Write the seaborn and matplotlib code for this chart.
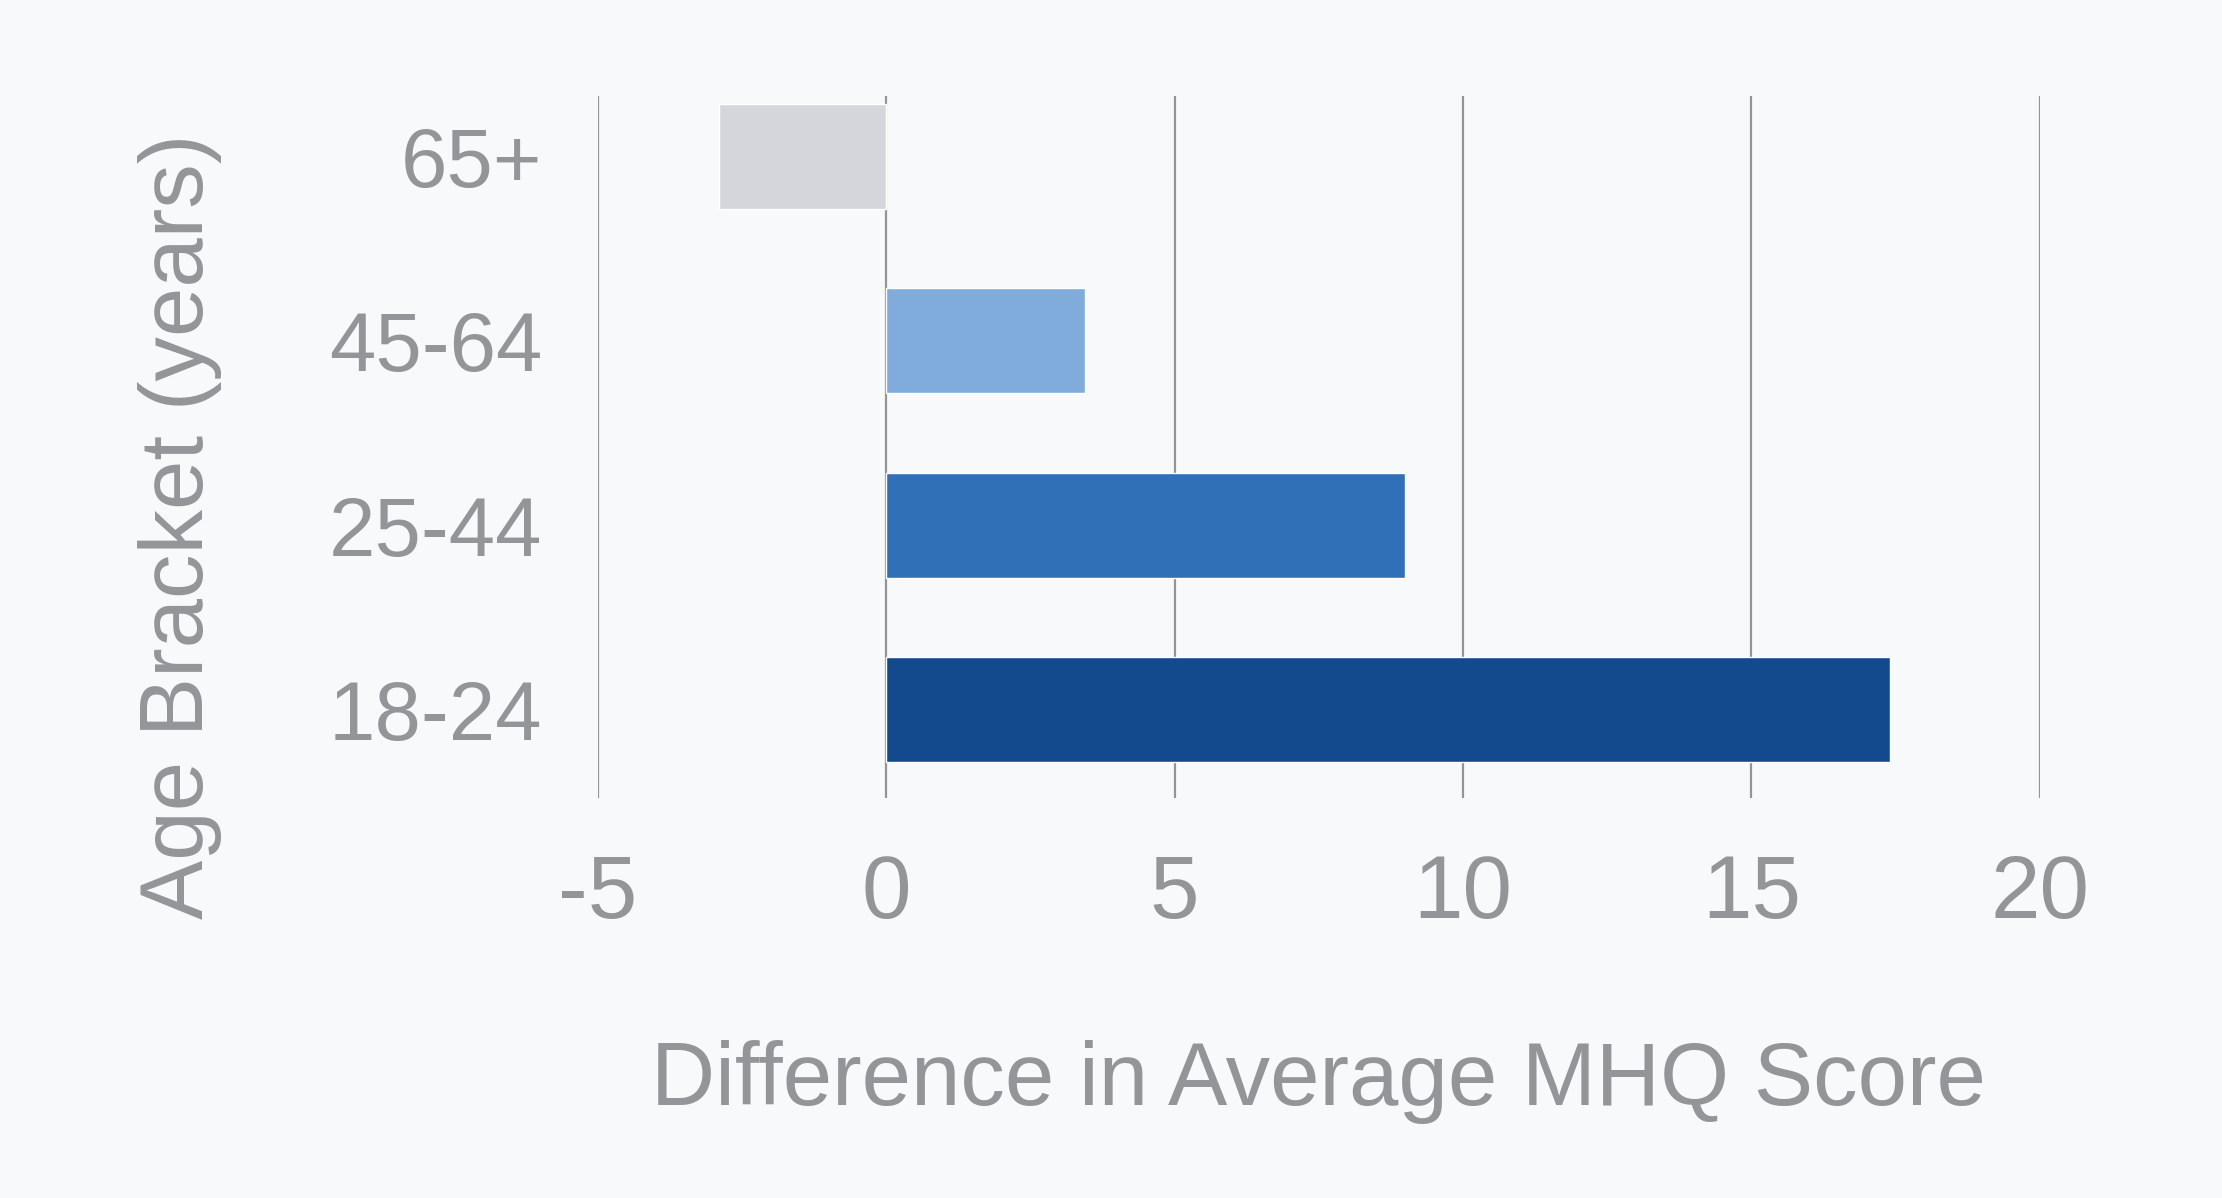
import matplotlib
matplotlib.use("Agg")
import matplotlib.pyplot as plt
import pandas as pd
import seaborn as sns

# data
age_brackets = ["65+", "45-64", "25-44", "18-24"]
mhq_diff = [-2.9, 3.45, 9.0, 17.4]
bar_colors = ["#d5d6dc", "#80acdb", "#3070b7", "#134a8e"]
x_ticks = [-5, 0, 5, 10, 15, 20]

BG = "#f8f9fb"
TXT = "#939598"
GRID = "#939598"

sns.set_theme(style="white")
plt.rcParams["font.family"] = ["Liberation Sans", "DejaVu Sans"]

df = pd.DataFrame({"age": age_brackets, "diff": mhq_diff})

fig = plt.figure(figsize=(22.22, 11.98), dpi=100, facecolor=BG)
ax = fig.add_axes([0.269, 0.334, 0.918 - 0.269, 0.920 - 0.334])
ax.set_facecolor(BG)

sns.barplot(data=df, y="age", x="diff", hue="age", order=age_brackets,
            palette=dict(zip(age_brackets, bar_colors)), legend=False,
            width=0.57, orient="h", saturation=1, ax=ax)

ax.set_axisbelow(True)
ax.set_xlim(-5, 20)
ax.set_ylim(3.48, -0.33)
ax.set_xticks(x_ticks)
ax.set_xticklabels([str(t) for t in x_ticks],
                   family=["Liberation Sans Narrow", "Liberation Sans"])
ax.xaxis.grid(True, color=GRID, linewidth=1.6)
ax.yaxis.grid(False)
for s in ax.spines.values():
    s.set_visible(False)

ax.tick_params(axis="x", length=0, pad=40, labelsize=64, labelcolor=TXT)
ax.tick_params(axis="y", length=0, pad=40, labelsize=60, labelcolor=TXT)

ax.set_ylabel("")
ax.set_xlabel("Difference in Average MHQ Score", fontsize=64, color=TXT, labelpad=74)

fig.text(0.081, 0.561, "Age Bracket (years)", rotation=90, fontsize=64,
         color=TXT, ha="center", va="center")

fig.savefig("out.png", dpi=100, facecolor=BG)
